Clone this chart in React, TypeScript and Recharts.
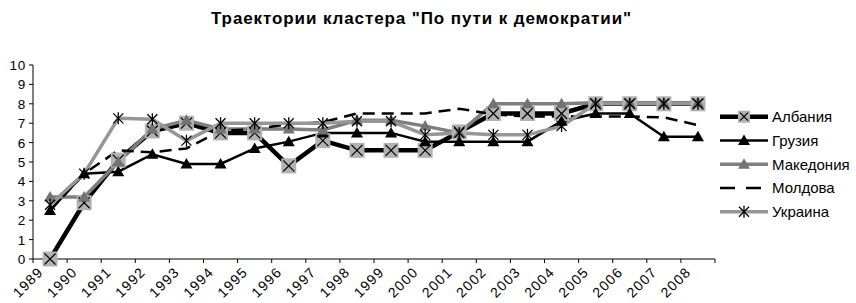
import { LineChart, Line, XAxis, YAxis } from "recharts";

const years = ["1989", "1990", "1991", "1992", "1993", "1994", "1995", "1996", "1997", "1998",
  "1999", "2000", "2001", "2002", "2003", "2004", "2005", "2006", "2007", "2008"];
const albania = [0, 2.9, 5.1, 6.6, 7.0, 6.5, 6.5, 4.8, 6.1, 5.6, 5.6, 5.6, 6.55, 7.5, 7.5, 7.5, 8.0, 8.0, 8.0, 8.0];
const georgia = [2.5, 4.4, 4.5, 5.4, 4.9, 4.9, 5.7, 6.05, 6.5, 6.5, 6.5, 6.05, 6.05, 6.05, 6.05, 7.1, 7.5, 7.5, 6.3, 6.3];
const macedonia = [3.2, 3.2, 5.0, 6.7, 7.15, 6.7, 6.7, 6.7, 6.65, 7.15, 7.15, 6.85, 6.5, 8.0, 8.0, 8.0, 8.05, 8.05, 8.05, 8.05];
const moldova = [2.5, 4.4, 5.6, 5.5, 5.7, 6.6, 6.7, 6.95, 7.05, 7.5, 7.5, 7.5, 7.75, 7.45, 7.35, 7.35, 7.35, 7.35, 7.3, 6.9];
const ukraine = [2.8, 4.4, 7.25, 7.2, 6.1, 7.0, 7.0, 7.0, 7.0, 7.1, 7.1, 6.4, 6.5, 6.4, 6.4, 6.85, 8.0, 8.0, 8.0, 8.0];
const yTicks = [0, 1, 2, 3, 4, 5, 6, 7, 8, 9, 10];

const data = years.map((y, i) => ({
  year: y, albania: albania[i], georgia: georgia[i], macedonia: macedonia[i],
  moldova: moldova[i], ukraine: ukraine[i],
}));

const FONT = "'Liberation Sans', Arial, sans-serif";
const HALF_BAND = 17.05;

function SquareX({ cx, cy, s = 7.5 }: any) {
  if (cx == null || cy == null) return null;
  const k = s - 2;
  return (
    <g>
      <rect x={cx - s} y={cy - s} width={2 * s} height={2 * s} fill="#b2b2b2" />
      <line x1={cx - k} y1={cy - k} x2={cx + k} y2={cy + k} stroke="#000" strokeWidth={1.2} />
      <line x1={cx - k} y1={cy + k} x2={cx + k} y2={cy - k} stroke="#000" strokeWidth={1.2} />
    </g>
  );
}

function Tri({ cx, cy, fill }: any) {
  if (cx == null || cy == null) return null;
  return <path d={`M${cx},${cy - 6} L${cx + 6},${cy + 4.5} L${cx - 6},${cy + 4.5} Z`} fill={fill} />;
}

function Star({ cx, cy }: any) {
  if (cx == null || cy == null) return null;
  const k = 5;
  return (
    <g stroke="#000" strokeWidth={1.3}>
      <line x1={cx - k} y1={cy - k} x2={cx + k} y2={cy + k} />
      <line x1={cx - k} y1={cy + k} x2={cx + k} y2={cy - k} />
      <line x1={cx} y1={cy - 6} x2={cx} y2={cy + 6} />
    </g>
  );
}

function YearTick({ x, y, payload, index }: any) {
  return (
    <g>
      <line x1={x - HALF_BAND} y1={y - 8} x2={x - HALF_BAND} y2={y - 4} stroke="#000" />
      {index === years.length - 1 && (
        <line x1={x + HALF_BAND} y1={y - 8} x2={x + HALF_BAND} y2={y - 4} stroke="#000" />
      )}
      <text x={x - 6} y={y + 6} transform={`rotate(-45 ${x - 6} ${y + 6})`} textAnchor="end"
        fontSize={14} letterSpacing={1.2} fontFamily={FONT} fill="#000">
        {payload.value}
      </text>
    </g>
  );
}

function ValueTick({ x, y, payload }: any) {
  return (
    <text x={x - 1} y={y + 5} textAnchor="end" fontSize={13.5} letterSpacing={0.8} fontFamily={FONT} fill="#000">
      {payload.value}
    </text>
  );
}

const LEGEND = [
  { name: "Албания", stroke: "#000", width: 4.5, dash: undefined, mark: "square" },
  { name: "Грузия", stroke: "#000", width: 2.5, dash: undefined, mark: "tri" },
  { name: "Македония", stroke: "#7f7f7f", width: 3.5, dash: undefined, mark: "grey" },
  { name: "Молдова", stroke: "#000", width: 2.5, dash: "15 11", mark: "none" },
  { name: "Украина", stroke: "#969696", width: 3.5, dash: undefined, mark: "star" },
];

function ChartLegend() {
  return (
    <svg width={141} height={130} style={{ position: "absolute", left: 715, top: 95 }}>
      {LEGEND.map((l, i) => {
        const y = 21.7 + i * 23.75;
        return (
          <g key={l.name}>
            <line x1={5} y1={y} x2={53} y2={y} stroke={l.stroke} strokeWidth={l.width} strokeDasharray={l.dash} />
            {l.mark === "square" && <SquareX cx={29} cy={y} s={6} />}
            {l.mark === "tri" && <Tri cx={29} cy={y} fill="#000" />}
            {l.mark === "grey" && <Tri cx={29} cy={y} fill="#737373" />}
            {l.mark === "star" && <Star cx={29} cy={y} />}
            <text x={57} y={y + 5.5} fontSize={15} fontFamily={FONT} fill="#000">{l.name}</text>
          </g>
        );
      })}
    </svg>
  );
}

export default function App() {
  return (
    <div style={{ position: "absolute", left: 0, top: 0, width: 856, height: 303, background: "#fff" }}>
      <div style={{ position: "absolute", left: 0, top: 9, width: 843, textAlign: "center",
        fontFamily: FONT, fontWeight: "bold", fontSize: 17, letterSpacing: 0.9, lineHeight: "20px" }}>
        Траектории кластера "По пути к демократии"
      </div>
      <LineChart width={856} height={303} data={data} margin={{ top: 65, right: 141, bottom: 0, left: 0 }}>
        <XAxis dataKey="year" padding={{ left: HALF_BAND, right: HALF_BAND }} height={44}
          axisLine={{ stroke: "#000" }} tickLine={false} tick={<YearTick />} interval={0} />
        <YAxis domain={[0, 10]} ticks={yTicks} width={33} interval={0}
          axisLine={{ stroke: "#000" }} tickLine={{ stroke: "#000" }} tickSize={4} tick={<ValueTick />} />
        <Line dataKey="albania" stroke="#000" strokeWidth={4.5} dot={<SquareX />} activeDot={false} isAnimationActive={false} />
        <Line dataKey="georgia" stroke="#000" strokeWidth={2.5} dot={<Tri fill="#000" />} activeDot={false} isAnimationActive={false} />
        <Line dataKey="macedonia" stroke="#7f7f7f" strokeWidth={3.5} dot={<Tri fill="#737373" />} activeDot={false} isAnimationActive={false} />
        <Line dataKey="moldova" stroke="#000" strokeWidth={2.5} strokeDasharray="12 7" dot={false} activeDot={false} isAnimationActive={false} />
        <Line dataKey="ukraine" stroke="#969696" strokeWidth={3.5} dot={<Star />} activeDot={false} isAnimationActive={false} />
      </LineChart>
      <ChartLegend />
    </div>
  );
}
